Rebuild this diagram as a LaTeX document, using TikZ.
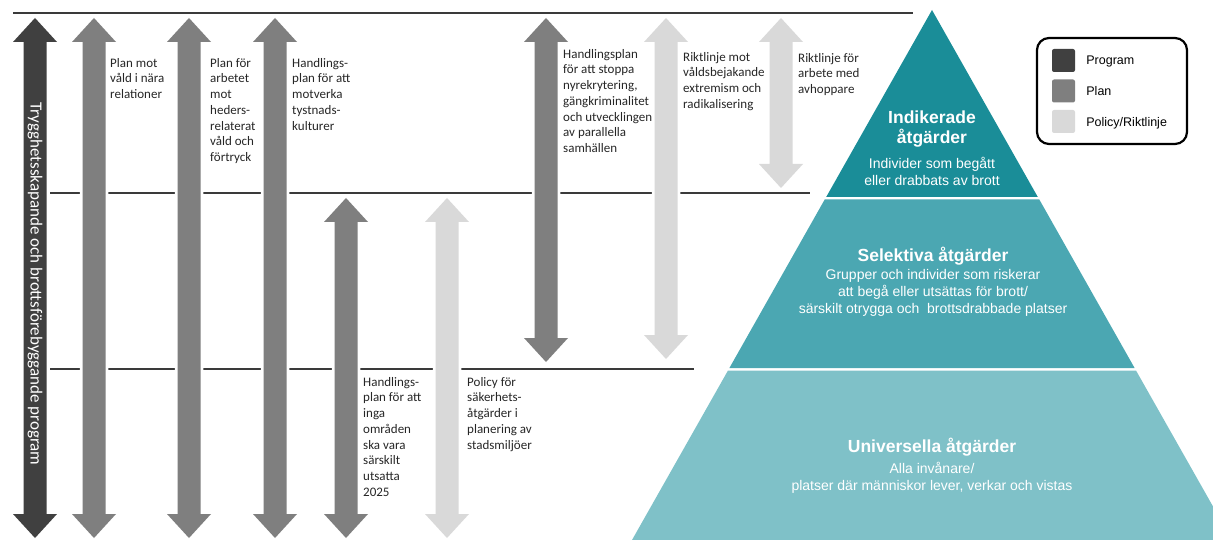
\documentclass[tikz,border=0pt]{standalone}
\usepackage{fontspec}
\setmainfont{Liberation Sans}
\newfontfamily\carlito{Carlito}
\usetikzlibrary{positioning}

\definecolor{progcol}{HTML}{404040}
\definecolor{plancol}{HTML}{7F7F7F}
\definecolor{polcol}{HTML}{D9D9D9}
\definecolor{indcol}{HTML}{1A8D98}
\definecolor{selcol}{HTML}{4BA7B2}
\definecolor{unicol}{HTML}{7FC1C8}
\definecolor{linecol}{HTML}{3A3A3A}

% vertical double block arrow: {colour}{x}{top}{bottom}
\newcommand{\dblarrow}[4]{%
  \path[preaction={draw=white, line width=5.5, line join=round}, fill=#1]
    (#2,#3) -- (#2+22,#3+24) -- (#2+11.5,#3+24) -- (#2+11.5,#4-24) -- (#2+22,#4-24)
    -- (#2,#4) -- (#2-22,#4-24) -- (#2-11.5,#4-24) -- (#2-11.5,#3+24) -- (#2-22,#3+24) -- cycle;}

\begin{document}
\begin{tikzpicture}[x=1pt, y=-1pt,
    lbl/.style={anchor=north west, inner sep=0pt, align=left, text=black!85,
      font=\carlito\fontsize{13}{15.7}\selectfont},
    tiertitle/.style={align=center, text=white, inner sep=0pt,
      font=\bfseries\fontsize{17.5}{20}\selectfont},
    tiersub/.style={align=center, text=white, inner sep=0pt,
      font=\fontsize{14}{17}\selectfont},
    swatch/.style={minimum size=23pt, inner sep=0pt, rounded corners=2pt},
    legtxt/.style={inner sep=0pt, anchor=west, text depth=0pt, font=\fontsize{12.5}{14}\selectfont},
    level/.style={draw=linecol, line width=1.5pt}]

    \useasboundingbox (0,0) rectangle (1213,540);
    \clip (0,0) rectangle (1213,540);

    % Levels
    \coordinate (topL) at (13,13);
    \coordinate (topR) at (913,13);
    \coordinate (midL) at (50,193);
    \coordinate (midR) at (810,193);
    \coordinate (lowL) at (50,369);
    \coordinate (lowR) at (694,369);
    \draw[level] (topL) -- (topR);
    \draw[level] (midL) -- (midR);
    \draw[level] (lowL) -- (lowR);

    % Arrows
    \dblarrow{progcol}{35}{18}{538}
    \dblarrow{plancol}{94}{18}{538}
    \dblarrow{plancol}{189}{18}{538}
    \dblarrow{plancol}{275}{18}{538}
    \dblarrow{plancol}{346}{198}{538}
    \dblarrow{polcol}{447}{198}{538}
    \dblarrow{plancol}{546}{18}{362}
    \dblarrow{polcol}{666}{18}{359}
    \dblarrow{polcol}{781}{18}{188}

    % Labels
    \node[white, rotate=-90, inner sep=0pt, font=\carlito\fontsize{17}{20}\selectfont] (prog) at (35,284)
        {Trygghetsskapande och brottsförebyggande program};
    \node[lbl] (vnr) at (110,58) {Plan mot\\våld i nära\\relationer};
    \node[lbl] (heder) at (210,58) {Plan för\\arbetet\\mot\\heders-\\relaterat\\våld och\\förtryck};
    \node[lbl] (tyst) at (292,58) {Handlings-\\plan för att\\motverka\\tystnads-\\kulturer};
    \node[lbl] (omr) at (363,377) {Handlings-\\plan för att\\inga\\områden\\ska vara\\särskilt\\utsatta\\2025};
    \node[lbl] (sak) at (467,377) {Policy för\\säkerhets-\\åtgärder i\\planering av\\stadsmiljöer};
    \node[lbl] (gang) at (563,49) {Handlingsplan\\för att stoppa\\nyrekrytering,\\gängkriminalitet\\och utvecklingen\\av parallella\\samhällen};
    \node[lbl] (extr) at (683,52) {Riktlinje mot\\våldsbejakande\\extremism och\\radikalisering};
    \node[lbl] (avh) at (798,53) {Riktlinje för\\arbete med\\avhoppare};

    % Pyramid
    \fill[indcol] (932,10) -- (1037.8,197) -- (826.2,197) -- cycle;
    \fill[selcol] (824.7,199.5) -- (1039.3,199.5) -- (1134.6,368) -- (729.4,368) -- cycle;
    \fill[unicol] (728,370.5) -- (1136,370.5) -- (1232,540) -- (632,540) -- cycle;

    \node[tiertitle] (indt) at (932,129) {Indikerade\\åtgärder};
    \node[tiersub] (inds) at (932,171) {Individer som begått\\eller drabbats av brott};
    \node[tiertitle] (selt) at (933,256) {Selektiva åtgärder};
    \node[tiersub] (sels) at (933,293) {Grupper och individer som riskerar\\att begå eller utsättas för brott/\\särskilt otrygga och \ brottsdrabbade platser};
    \node[tiertitle] (unit) at (932,447) {Universella åtgärder};
    \node[tiersub] (unis) at (932,478) {Alla invånare/\\platser där människor lever, verkar och vistas};

    % Legend
    \node[draw=black, line width=2.2pt, rounded corners=12pt, minimum width=150pt, minimum height=106pt] (legend) at (1112,91) {};
    \node[swatch, fill=progcol] (swprog) at (1063.5,60.5) {};
    \node[swatch, fill=plancol] (swplan) at (1063.5,91) {};
    \node[swatch, fill=polcol] (swpol) at (1063.5,121.5) {};
    \node[legtxt, right=11pt of swprog] (ltprog) {Program};
    \node[legtxt, right=11pt of swplan] (ltplan) {Plan};
    \node[legtxt, right=11pt of swpol] (ltpol) {Policy/Riktlinje};

\end{tikzpicture}
\end{document}
